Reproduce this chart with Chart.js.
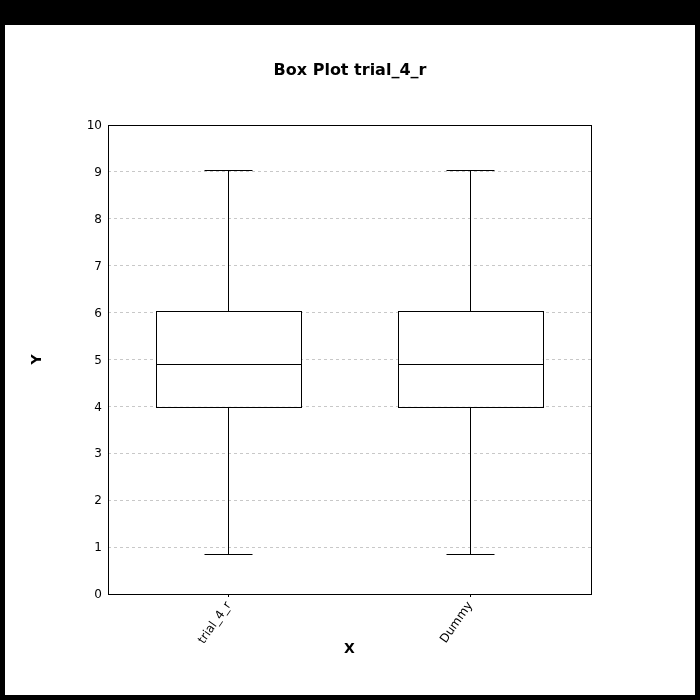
<!DOCTYPE html>
<html>
<head>
<meta charset="utf-8">
<script src="https://cdn.jsdelivr.net/npm/chart.js@4.4.0/dist/chart.umd.min.js"></script>
<style>
  html, body { margin: 0; padding: 0; background: #000; width: 700px; height: 700px; overflow: hidden; }
  #wrap { position: absolute; left: 5px; top: 25px; width: 690px; height: 670px; background: #fff; }
  canvas { display: block; }
</style>
</head>
<body>
<div id="wrap"><canvas id="c" width="690" height="670"></canvas></div>
<script>
const categories = ['trial_4_r', 'Dummy'];
const minValues = [0.85, 0.85];
const q1Values = [3.99, 3.99];
const medianValues = [4.90, 4.90];
const q3Values = [6.04, 6.04];
const maxValues = [9.03, 9.03];
const yTicks = [0, 1, 2, 3, 4, 5, 6, 7, 8, 9, 10];

const FONT = "'DejaVu Sans', sans-serif";

const boxPlugin = {
  id: 'boxExtras',
  afterDatasetsDraw(chart) {
    const { ctx, scales: { x, y } } = chart;
    const catW = x.getPixelForValue(1) - x.getPixelForValue(0);
    const boxW = Math.round(catW * 0.6);
    const capW = Math.round(catW * 0.2);
    ctx.save();
    ctx.strokeStyle = '#000';
    ctx.lineWidth = 1;
    categories.forEach((c, i) => {
      const cx = Math.floor(x.getPixelForValue(i)) + 0.5;
      const yMin = Math.round(y.getPixelForValue(minValues[i])) + 0.5;
      const yQ1 = Math.round(y.getPixelForValue(q1Values[i])) + 0.5;
      const yMed = Math.round(y.getPixelForValue(medianValues[i])) + 0.5;
      const yQ3 = Math.round(y.getPixelForValue(q3Values[i])) + 0.5;
      const yMax = Math.round(y.getPixelForValue(maxValues[i])) + 0.5;
      const bl = Math.floor(cx - boxW / 2) + 0.5;
      ctx.beginPath();
      // whiskers
      ctx.moveTo(cx, yQ3); ctx.lineTo(cx, yMax);
      ctx.moveTo(cx - capW / 2, yMax); ctx.lineTo(cx + capW / 2, yMax);
      ctx.moveTo(cx, yQ1); ctx.lineTo(cx, yMin);
      ctx.moveTo(cx - capW / 2, yMin); ctx.lineTo(cx + capW / 2, yMin);
      // median
      ctx.moveTo(bl, yMed); ctx.lineTo(bl + boxW, yMed);
      ctx.stroke();
      // box outline
      ctx.strokeRect(bl, yQ3, boxW, yQ1 - yQ3);
    });
    // plot frame
    const a = chart.chartArea;
    ctx.strokeRect(Math.round(a.left) + 0.5, Math.round(a.top) + 0.5,
                   Math.round(a.right - a.left), Math.round(a.bottom - a.top));
    ctx.restore();
  }
};

new Chart(document.getElementById('c'), {
  type: 'bar',
  data: {
    labels: categories,
    datasets: [{
      data: categories.map((c, i) => [q1Values[i], q3Values[i]]),
      backgroundColor: '#ffffff',
      borderWidth: 0,
      barPercentage: 0.6,
      categoryPercentage: 1.0
    }]
  },
  options: {
    responsive: false,
    animation: false,
    layout: { padding: 0 },
    plugins: {
      legend: { display: false },
      tooltip: { enabled: false },
      title: {
        display: true,
        text: 'Box Plot trial_4_r',
        color: '#000',
        font: { family: FONT, size: 16, weight: 'bold' },
        padding: { top: 36.5, bottom: 44.3 }
      }
    },
    scales: {
      x: {
        type: 'category',
        offset: true,
        grid: { display: true, offset: false, drawOnChartArea: false, drawTicks: true, tickLength: 3, color: '#000' },
        border: { display: false },
        ticks: {
          color: '#000', font: { family: FONT, size: 12 },
          minRotation: 55, maxRotation: 55, padding: 2, autoSkip: false
        },
        title: {
          display: true, text: 'X', color: '#000',
          font: { family: FONT, size: 14, weight: 'bold' },
          padding: { top: 0, bottom: 37 }
        },
        afterFit(s) { s.height = 101; }
      },
      y: {
        type: 'linear',
        position: 'left',
        min: 0, max: 10,
        afterBuildTicks(s) { s.ticks = yTicks.map(v => ({ value: v })); },
        grid: { display: true, drawTicks: false, color: '#c8c8c8', lineWidth: 1 },
        border: { display: false, dash: [3, 3] },
        ticks: { color: '#000', font: { family: FONT, size: 12 }, padding: 6, labelOffset: 1 },
        title: {
          display: true, text: 'Y', color: '#000',
          font: { family: FONT, size: 14, weight: 'bold' },
          padding: { top: 24, bottom: 0 }
        },
        afterFit(s) { s.width = 103; }
      },
      yRight: {
        type: 'linear',
        position: 'right',
        min: 0, max: 1,
        grid: { display: false },
        border: { display: false },
        ticks: { display: false },
        afterFit(s) { s.width = 104; }
      }
    }
  },
  plugins: [boxPlugin]
});
</script>
</body>
</html>
